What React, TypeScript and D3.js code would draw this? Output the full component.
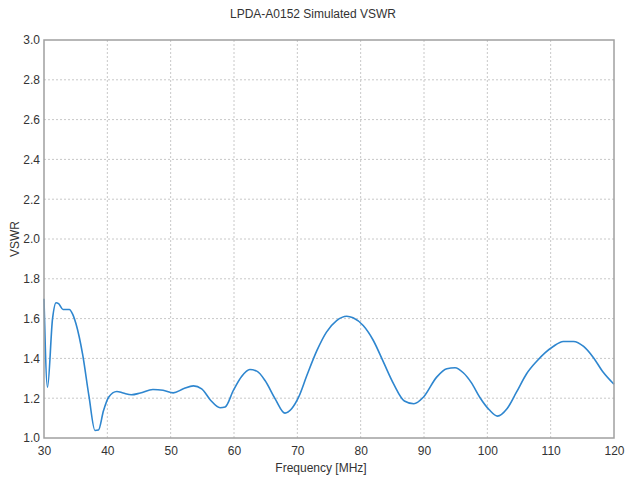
import { useEffect, useRef } from 'react';
import * as d3 from 'd3';

const WIDTH = 625;
const HEIGHT = 477;

const TITLE = 'LPDA-A0152 Simulated VSWR';
const X_LABEL = 'Frequency [MHz]';
const Y_LABEL = 'VSWR';

const X_TICKS = [30, 40, 50, 60, 70, 80, 90, 100, 110, 120];
const Y_TICKS = [1.0, 1.2, 1.4, 1.6, 1.8, 2.0, 2.2, 2.4, 2.6, 2.8, 3.0];

// frequency (MHz) and simulated VSWR
const FREQ = [
  30, 30.55, 31.35, 31.9, 32.3, 33.0, 34.0, 34.5, 35.05, 36.1, 37.1, 38.05, 38.6,
  39.4, 40.2, 41.5, 42.5, 43.8, 45.2, 47.2, 48.8, 50.4, 52.0, 53.6, 54.9, 56.3,
  57.8, 58.6, 59.9, 61.2, 62.5, 63.6, 64.9, 66.5, 68.05, 69.1, 70.2, 71.5, 73.1,
  74.6, 76.2, 77.8, 78.8, 80.4, 82.0, 83.6, 85.2, 86.9, 88.4, 89.9, 92.0, 93.6,
  94.9, 96.2, 97.5, 98.8, 100.3, 101.6, 103.1, 104.6, 106.2, 107.8, 109.1, 110.4,
  112.0, 113.6, 115.2, 116.7, 118.3, 120,
];
const VSWR = [
  1.7, 1.255, 1.6, 1.68, 1.675, 1.646, 1.646, 1.624, 1.574, 1.42, 1.21, 1.038, 1.04,
  1.138, 1.205, 1.234, 1.226, 1.217, 1.226, 1.244, 1.24, 1.227, 1.247, 1.262, 1.247,
  1.19, 1.152, 1.156, 1.239, 1.309, 1.344, 1.336, 1.289, 1.197, 1.125, 1.147, 1.205,
  1.314, 1.44, 1.532, 1.59, 1.612, 1.604, 1.565, 1.49, 1.381, 1.272, 1.186, 1.172,
  1.205, 1.306, 1.348, 1.353, 1.328, 1.277, 1.205, 1.142, 1.11, 1.147, 1.23, 1.323,
  1.386, 1.428, 1.46, 1.485, 1.485, 1.46, 1.406, 1.33, 1.27,
];

const FONT = '"Liberation Sans", Arial, sans-serif';
const TEXT = '#333333';
const GRID = '#c8c8c8';
const FRAME = '#a0a0a0';
const LINE = '#2e86cf';

export default function App() {
  const svgRef = useRef<SVGSVGElement>(null);

  useEffect(() => {
    document.body.style.margin = '0';
    document.body.style.overflow = 'hidden';
    if (!svgRef.current) return;
    const svg = d3.select(svgRef.current);
    svg.selectAll('*').remove();

    const margin = { top: 40, right: 11, bottom: 39, left: 44 };
    const innerWidth = WIDTH - margin.left - margin.right;
    const innerHeight = HEIGHT - margin.top - margin.bottom;

    const g = svg
      .append('g')
      .attr('transform', `translate(${margin.left},${margin.top})`);

    const x = d3.scaleLinear().domain([30, 120]).range([0, innerWidth]);
    const y = d3.scaleLinear().domain([1, 3]).range([innerHeight, 0]);

    // Grid
    g.selectAll('line.vgrid')
      .data(X_TICKS.slice(1, -1))
      .join('line')
      .attr('class', 'vgrid')
      .attr('x1', (d) => x(d))
      .attr('x2', (d) => x(d))
      .attr('y1', 0)
      .attr('y2', innerHeight)
      .attr('stroke', GRID)
      .attr('stroke-dasharray', '2,2');

    g.selectAll('line.hgrid')
      .data(Y_TICKS.slice(1, -1))
      .join('line')
      .attr('class', 'hgrid')
      .attr('x1', 0)
      .attr('x2', innerWidth)
      .attr('y1', (d) => y(d))
      .attr('y2', (d) => y(d))
      .attr('stroke', GRID)
      .attr('stroke-dasharray', '2,2');

    // Curve
    const data = FREQ.map((f, i) => ({ f, v: VSWR[i] }));
    const line = d3
      .line<{ f: number; v: number }>()
      .x((d) => x(d.f))
      .y((d) => y(d.v))
      .curve(d3.curveMonotoneX);

    g.append('path')
      .datum(data)
      .attr('d', line)
      .attr('fill', 'none')
      .attr('stroke', LINE)
      .attr('stroke-width', 1.6);

    // Frame
    g.append('rect')
      .attr('x', 0)
      .attr('y', 0)
      .attr('width', innerWidth)
      .attr('height', innerHeight)
      .attr('fill', 'none')
      .attr('stroke', FRAME)
      .attr('stroke-width', 1.5);

    // Axes
    const xAxis = g
      .append('g')
      .attr('transform', `translate(0,${innerHeight})`)
      .call(
        d3
          .axisBottom(x)
          .tickValues(X_TICKS)
          .tickSize(0)
          .tickPadding(8)
          .tickFormat((d) => `${d}`)
      );
    xAxis.selectAll('text').attr('fill', TEXT).attr('font-size', 12).attr('font-family', FONT);

    const yAxis = g.append('g').call(
      d3
        .axisLeft(y)
        .tickValues(Y_TICKS)
        .tickSize(0)
        .tickPadding(4)
        .tickFormat((d) => (d as number).toFixed(1))
    );
    yAxis.selectAll('text').attr('fill', TEXT).attr('font-size', 12).attr('font-family', FONT);

    svg.selectAll('.domain').remove();

    // Titles
    svg
      .append('text')
      .attr('x', 313)
      .attr('y', 18)
      .attr('text-anchor', 'middle')
      .attr('fill', TEXT)
      .attr('font-size', 12)
      .attr('font-family', FONT)
      .text(TITLE);

    svg
      .append('text')
      .attr('x', 321)
      .attr('y', 472)
      .attr('text-anchor', 'middle')
      .attr('fill', TEXT)
      .attr('font-size', 12)
      .attr('font-family', FONT)
      .text(X_LABEL);

    svg
      .append('text')
      .attr('transform', `translate(19,${margin.top + innerHeight / 2}) rotate(-90)`)
      .attr('text-anchor', 'middle')
      .attr('fill', TEXT)
      .attr('font-size', 12)
      .attr('font-family', FONT)
      .text(Y_LABEL);
  }, []);

  return (
    <svg
      ref={svgRef}
      width={WIDTH}
      height={HEIGHT}
      style={{ display: 'block', position: 'absolute', left: 0, top: 0, background: '#fff' }}
    />
  );
}
